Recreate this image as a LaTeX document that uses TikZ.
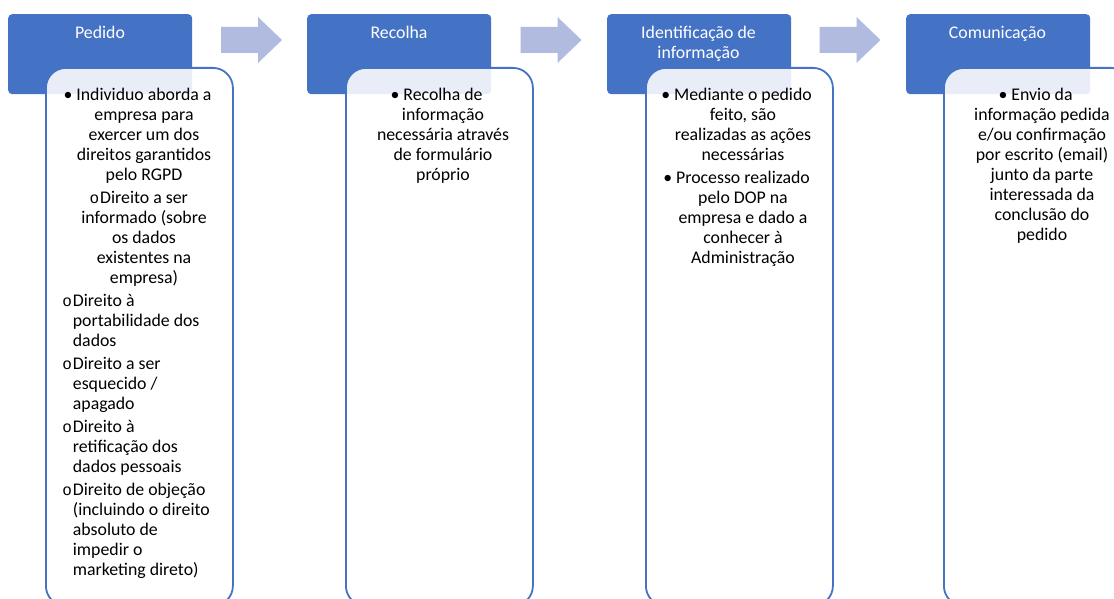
\documentclass[tikz,border=0pt]{standalone}
\usepackage{fontspec}
\setmainfont{Carlito}
\newfontfamily\courfont{Liberation Mono}
\definecolor{hblue}{HTML}{4472C4}
\definecolor{arrc}{HTML}{B0BBDF}
\newcommand{\bul}{\llap{•\kern4pt}}
\newcommand{\subbul}{\llap{{\fontsize{16}{20}\selectfont\courfont o}\kern1pt}}
\begin{document}
\begin{tikzpicture}[x=1pt,y=-1pt,
  hdr/.style={rectangle, rounded corners=4pt, fill=hblue, draw=none, inner sep=0pt,
    minimum width=184pt, minimum height=80pt, anchor=north west},
  cbox/.style={rectangle, rounded corners=20pt, fill=white, fill opacity=0.88,
    draw=hblue, draw opacity=1, line width=1.8pt, inner sep=0pt,
    minimum width=187pt, minimum height=538pt, anchor=north west},
  htext/.style={font=\fontsize{17.8}{20}\selectfont, text=white, align=center, inner sep=0pt, anchor=north},
  ctext/.style={font=\fontsize{17.8}{20}\selectfont, text=black, align=center, inner sep=0pt, anchor=north},
  ltext/.style={font=\fontsize{17.8}{20}\selectfont, text=black, align=left, inner sep=0pt, anchor=north west},
  arrowfill/.style={fill=arrc, draw=none}
]
\useasboundingbox (0,0) rectangle (1114,599);
\clip (0,0) rectangle (1114,599);

% headers
\node[hdr] (h1) at (8,14) {};
\node[hdr] (h2) at (307,14) {};
\node[hdr] (h3) at (607,14) {};
\node[hdr] (h4) at (906,14) {};

% arrows
\foreach \i/\x in {1/221,2/520.5,3/819.5}{
  \coordinate (a\i) at (\x,40);
  \fill[arrowfill] (\x,27) -- ++(37,0) -- ++(0,-10) -- ++(24,23) -- ++(-24,23) -- ++(0,-10) -- ++(-37,0) -- cycle;
}

% content boxes
\node[cbox] (b1) at (45,67) {};
\node[cbox] (b2) at (345,67) {};
\node[cbox] (b3) at (645,67) {};
\node[cbox] (b4) at (943,67) {};

% header texts
\node[htext] (t1) at (100,24) {\strut Pedido};
\node[htext] (t2) at (399,24) {\strut Recolha};
\node[htext] (t3) at (698.5,24) {\strut Identificação de\\informação};
\node[htext] (t4) at (997.5,24) {\strut Comunicação};

% box 1
\node[ctext] (p11) at (144,86) {\strut\bul Individuo aborda a\\empresa para\\exercer um dos\\direitos garantidos\\pelo RGPD};
\node[ctext] (p12) at (144,189) {\strut\subbul Direito a ser\\informado (sobre\\os dados\\existentes na\\empresa)};
\node[ltext] (p13) at (72.7,292) {\strut\subbul Direito à\\portabilidade dos\\dados};
\node[ltext] (p14) at (72.7,355) {\strut\subbul Direito a ser\\esquecido /\\apagado};
\node[ltext] (p15) at (72.7,418) {\strut\subbul Direito à\\retificação dos\\dados pessoais};
\node[ltext] (p16) at (72.7,481) {\strut\subbul Direito de objeção\\(incluindo o direito\\absoluto de\\impedir o\\marketing direto)};

% box 2
\node[ctext] (p21) at (443,86) {\strut\bul Recolha de\\informação\\necessária através\\de formulário\\próprio};

% box 3
\node[ctext] (p31) at (743,86) {\strut\bul Mediante o pedido\\feito, são\\realizadas as ações\\necessárias};
\node[ctext] (p32) at (743,169) {\strut\bul Processo realizado\\pelo DOP na\\empresa e dado a\\conhecer à\\Administração};

% box 4
\node[ctext] (p41) at (1042,86) {\strut\bul Envio da\\informação pedida\\e/ou confirmação\\por escrito (email)\\junto da parte\\interessada da\\conclusão do\\pedido};
\end{tikzpicture}
\end{document}
